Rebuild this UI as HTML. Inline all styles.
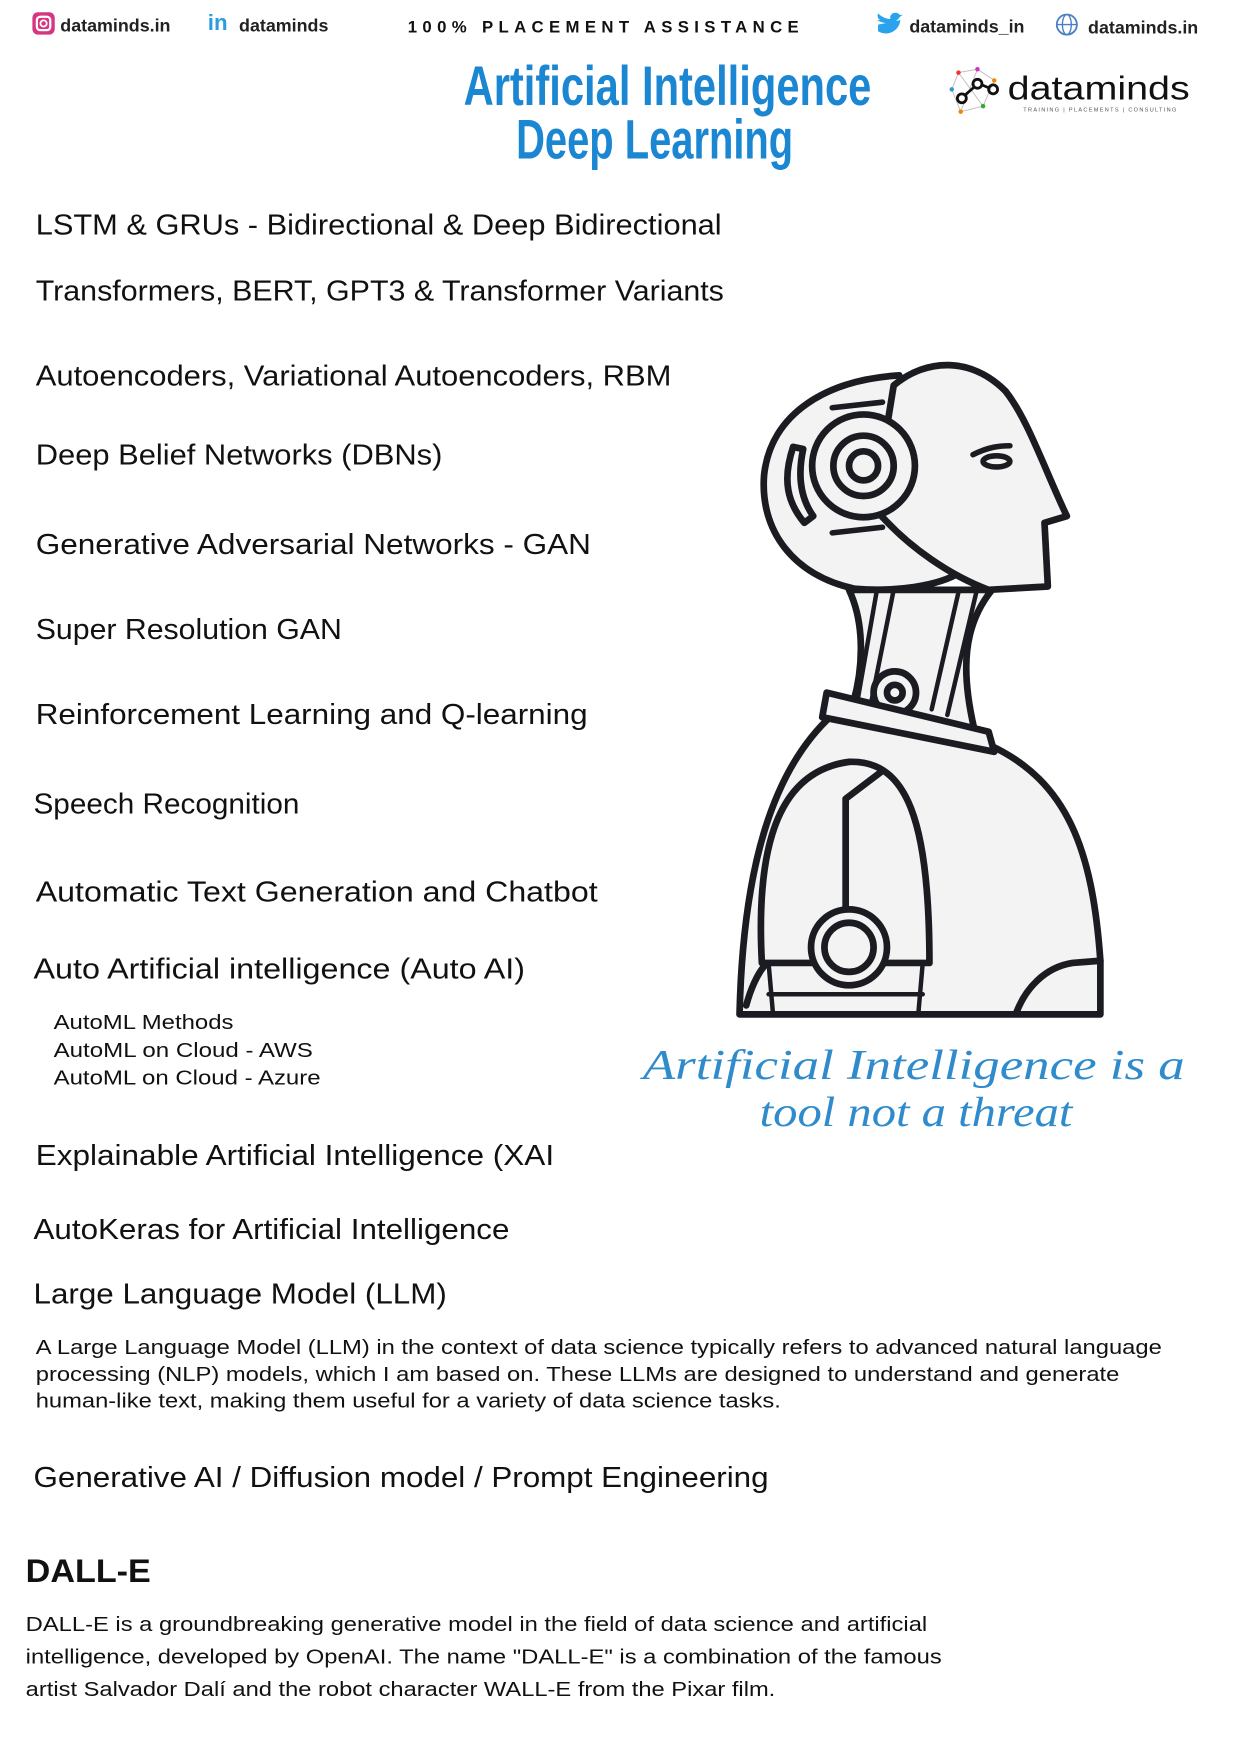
<!DOCTYPE html>
<html><head><meta charset="utf-8"><style>
html,body{margin:0;padding:0;background:#fff;}
svg{display:block;}
.it{font-family:"Liberation Sans",sans-serif;font-size:26px;fill:#111;}
.p{font-family:"Liberation Sans",sans-serif;font-size:18px;fill:#111;}
</style></head><body>
<svg width="1240" height="1755" viewBox="0 0 1110 1571" preserveAspectRatio="none" xmlns="http://www.w3.org/2000/svg">
<rect width="1110" height="1571" fill="#fff"/>
<!-- header -->
<rect x="29" y="11" width="20" height="20" rx="5" fill="#d6357f"/>
<rect x="33" y="15" width="12" height="12" rx="3" fill="none" stroke="#fff" stroke-width="2"/>
<circle cx="39" cy="21" r="2.8" fill="none" stroke="#fff" stroke-width="1.6"/>
<text x="54" y="28" font-family="Liberation Sans,sans-serif" font-size="16" font-weight="bold" fill="#222">dataminds.in</text>
<text x="186" y="27" font-family="Liberation Sans,sans-serif" font-size="20" font-weight="bold" fill="#2a9de0">in</text>
<text x="214" y="28" font-family="Liberation Sans,sans-serif" font-size="16" font-weight="bold" fill="#222">dataminds</text>
<text x="365" y="29" font-family="Liberation Sans,sans-serif" font-size="15" font-weight="bold" fill="#111" textLength="350" lengthAdjust="spacing">100% PLACEMENT ASSISTANCE</text>
<path d="M785,18 C792,22 800,22 805,16 C806,14 808,14 808,13 C806,14 805,13 804,12 C800,10 796,13 797,17 C793,17 789,15 786,12 C785,15 786,17 788,18 Z M786,28 C794,33 805,28 806,18 L786,22 Z" fill="#2aa3ef"/>
<text x="814" y="29" font-family="Liberation Sans,sans-serif" font-size="16" font-weight="bold" fill="#222">dataminds_in</text>
<circle cx="955" cy="22" r="9" fill="none" stroke="#4a7fc0" stroke-width="1.6"/>
<ellipse cx="955" cy="22" rx="4" ry="9" fill="none" stroke="#4a7fc0" stroke-width="1.2"/>
<line x1="946" y1="22" x2="964" y2="22" stroke="#4a7fc0" stroke-width="1.2"/>
<text x="974" y="30" font-family="Liberation Sans,sans-serif" font-size="16" font-weight="bold" fill="#222">dataminds.in</text>
<!-- title -->
<text x="415" y="94" font-family="Liberation Sans Narrow,Liberation Sans,sans-serif" font-size="50" font-weight="bold" fill="#1b86d1" textLength="365" lengthAdjust="spacingAndGlyphs">Artificial Intelligence</text>
<text x="462" y="142" font-family="Liberation Sans Narrow,Liberation Sans,sans-serif" font-size="50" font-weight="bold" fill="#1b86d1" textLength="248" lengthAdjust="spacingAndGlyphs">Deep Learning</text>
<!-- logo -->
<g stroke="#bbb" stroke-width="0.8" fill="none"><path d="M858,65 L875,62 L890,72 L880,95 L860,100 L852,80 Z M858,65 L880,95 M875,62 L860,100"/></g>
<g fill="#e33"><circle cx="858" cy="65" r="2"/><circle cx="890" cy="72" r="2" fill="#e80"/><circle cx="880" cy="95" r="2" fill="#3a3"/><circle cx="860" cy="100" r="2" fill="#e80"/><circle cx="875" cy="62" r="2" fill="#c3c"/><circle cx="852" cy="80" r="2" fill="#39c"/></g>
<g fill="none" stroke="#111" stroke-width="2.5"><circle cx="861" cy="88" r="4"/><circle cx="875" cy="75" r="4"/><circle cx="889" cy="80" r="4"/><path d="M864,85 L872,78 M879,76 L886,79"/></g>
<text x="902" y="89" font-family="Liberation Sans,sans-serif" font-size="30" fill="#111" textLength="163" lengthAdjust="spacingAndGlyphs">dataminds</text>
<text x="916" y="100" font-family="Liberation Sans,sans-serif" font-size="5" fill="#555" textLength="137" lengthAdjust="spacing">TRAINING | PLACEMENTS | CONSULTING</text>
<!-- items -->
<text class="it" x="32" y="210" textLength="614" lengthAdjust="spacingAndGlyphs">LSTM &amp; GRUs - Bidirectional &amp; Deep Bidirectional</text>
<text class="it" x="32" y="269" textLength="616" lengthAdjust="spacingAndGlyphs">Transformers, BERT, GPT3 &amp; Transformer Variants</text>
<text class="it" x="32" y="345" textLength="569" lengthAdjust="spacingAndGlyphs">Autoencoders, Variational Autoencoders, RBM</text>
<text class="it" x="32" y="416" textLength="364" lengthAdjust="spacingAndGlyphs">Deep Belief Networks (DBNs)</text>
<text class="it" x="32" y="496" textLength="497" lengthAdjust="spacingAndGlyphs">Generative Adversarial Networks - GAN</text>
<text class="it" x="32" y="572" textLength="274" lengthAdjust="spacingAndGlyphs">Super Resolution GAN</text>
<text class="it" x="32" y="648" textLength="494" lengthAdjust="spacingAndGlyphs">Reinforcement Learning and Q-learning</text>
<text class="it" x="30" y="728" textLength="238" lengthAdjust="spacingAndGlyphs">Speech Recognition</text>
<text class="it" x="32" y="807" textLength="503" lengthAdjust="spacingAndGlyphs">Automatic Text Generation and Chatbot</text>
<text class="it" x="30" y="876" textLength="440" lengthAdjust="spacingAndGlyphs">Auto Artificial intelligence (Auto AI)</text>
<text class="p" x="48" y="921" textLength="161" lengthAdjust="spacingAndGlyphs">AutoML Methods</text>
<text class="p" x="48" y="946" textLength="232" lengthAdjust="spacingAndGlyphs">AutoML on Cloud - AWS</text>
<text class="p" x="48" y="971" textLength="239" lengthAdjust="spacingAndGlyphs">AutoML on Cloud - Azure</text>
<text class="it" x="32" y="1043" textLength="464" lengthAdjust="spacingAndGlyphs">Explainable Artificial Intelligence (XAI</text>
<text class="it" x="30" y="1109" textLength="426" lengthAdjust="spacingAndGlyphs">AutoKeras for Artificial Intelligence</text>
<text class="it" x="30" y="1167" textLength="370" lengthAdjust="spacingAndGlyphs">Large Language Model (LLM)</text>
<text class="p" x="32" y="1212" textLength="1008" lengthAdjust="spacingAndGlyphs">A Large Language Model (LLM) in the context of data science typically refers to advanced natural language</text>
<text class="p" x="32" y="1236" textLength="970" lengthAdjust="spacingAndGlyphs">processing (NLP) models, which I am based on. These LLMs are designed to understand and generate</text>
<text class="p" x="32" y="1260" textLength="667" lengthAdjust="spacingAndGlyphs">human-like text, making them useful for a variety of data science tasks.</text>
<text class="it" x="30" y="1331" textLength="658" lengthAdjust="spacingAndGlyphs">Generative AI / Diffusion model / Prompt Engineering</text>
<text x="23" y="1416" font-family="Liberation Sans,sans-serif" font-size="29" font-weight="bold" fill="#111" textLength="112" lengthAdjust="spacingAndGlyphs">DALL-E</text>
<text class="p" x="23" y="1460" font-size="19" textLength="807" lengthAdjust="spacingAndGlyphs">DALL-E is a groundbreaking generative model in the field of data science and artificial</text>
<text class="p" x="23" y="1489" font-size="19" textLength="820" lengthAdjust="spacingAndGlyphs">intelligence, developed by OpenAI. The name "DALL-E" is a combination of the famous</text>
<text class="p" x="23" y="1518" font-size="19" textLength="671" lengthAdjust="spacingAndGlyphs">artist Salvador Dalí and the robot character WALL-E from the Pixar film.</text>
<!-- robot -->
<g fill="#f3f3f3" stroke="#1b1c22" stroke-width="6" stroke-linejoin="round" stroke-linecap="round">
 <!-- body -->
 <path d="M745,640 C690,690 665,780 662,908 L985,908 L985,860 C978,760 955,700 888,668 Z"/>
 <path d="M985,860 L960,862 C935,866 918,885 910,906" fill="none"/>
 <path d="M682,862 C676,750 700,690 760,682 C812,680 832,735 832,862 Z"/>
 <path d="M668,900 C672,885 678,872 684,865" fill="none"/>
 <path d="M790,690 L757,715 L757,822" fill="none"/>
 <path d="M688,862 L692,908 M826,862 L822,908 M688,890 L826,890" fill="none" stroke-width="4"/>
 <circle cx="760" cy="848" r="34"/>
 <circle cx="760" cy="848" r="22"/>
 <!-- neck -->
 <path d="M760,528 C775,560 772,600 764,628 L872,652 C860,600 862,560 888,528 Z"/>
 <path d="M785,528 L768,625 M800,528 L780,628 M858,530 L834,635 M874,530 L848,640" fill="none" stroke-width="4"/>
 <circle cx="801" cy="620" r="19"/>
 <circle cx="801" cy="620" r="7"/>
 <!-- collar -->
 <path d="M740,620 L885,655 L890,673 L736,642 Z"/>
 <!-- head back -->
 <path d="M805,336 C740,340 690,370 684,425 C680,475 710,515 765,527 C800,530 840,525 860,512 Z"/>
 <!-- face -->
 <path d="M800,345 C830,320 870,320 900,350 C920,375 935,420 955,462 L935,468 L938,525 L885,528 C850,515 815,490 792,465 L782,455 Z"/>
 <!-- ear -->
 <circle cx="773" cy="417" r="46"/>
 <circle cx="773" cy="417" r="27"/>
 <circle cx="773" cy="417" r="13"/>
 <path d="M710,400 C700,430 705,450 720,468 L728,462 C716,445 714,425 719,402 Z"/>
 <path d="M745,365 L790,360 M745,477 L790,472" fill="none" stroke-width="5"/>
 <!-- eye -->
 <path d="M871,407 C885,400 895,399 904,399" fill="none" stroke-width="5"/>
 <ellipse cx="892" cy="413" rx="12" ry="5" stroke-width="5"/>
</g>
<!-- quote -->
<text x="818" y="966" text-anchor="middle" font-family="Liberation Serif,serif" font-style="italic" font-size="38" fill="#2f8bcb" textLength="485" lengthAdjust="spacingAndGlyphs">Artificial Intelligence is a</text>
<text x="820" y="1008" text-anchor="middle" font-family="Liberation Serif,serif" font-style="italic" font-size="38" fill="#2f8bcb" textLength="280" lengthAdjust="spacingAndGlyphs">tool not a threat</text>
</svg>
</body></html>
